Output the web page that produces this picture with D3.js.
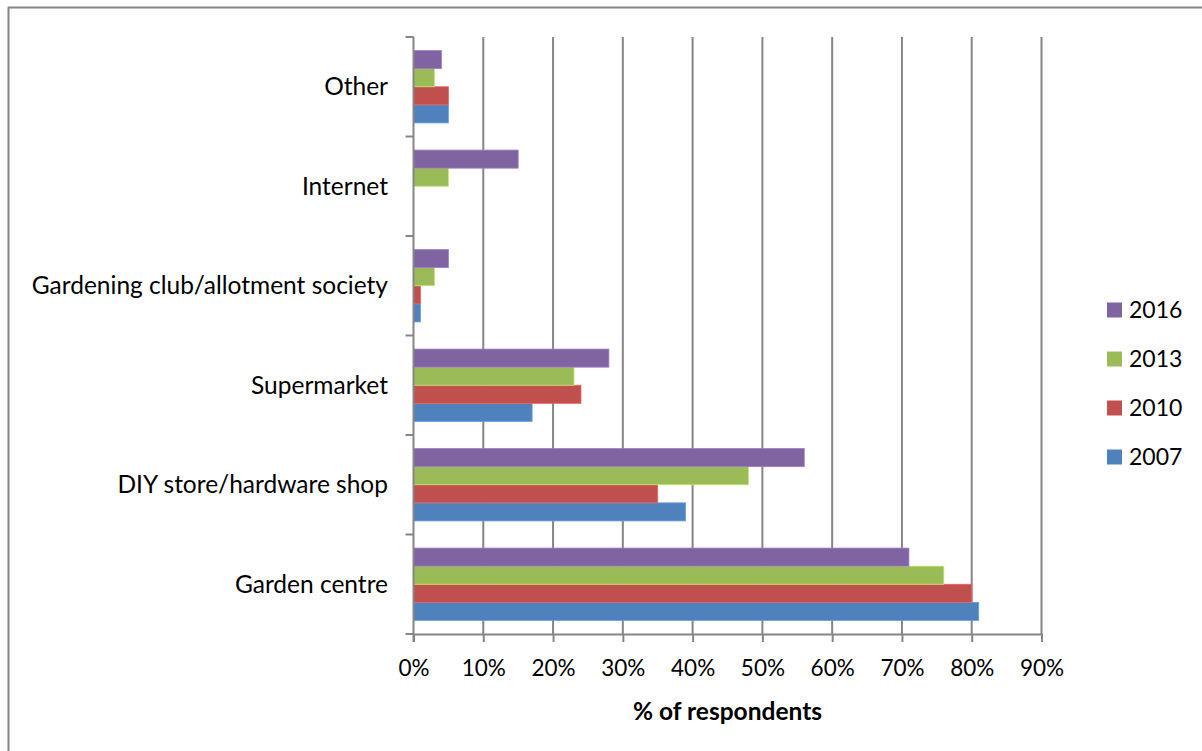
<!DOCTYPE html>
<html>
<head>
<meta charset="utf-8">
<script src="https://cdn.jsdelivr.net/npm/d3@7"></script>
<style>
  html, body { margin: 0; padding: 0; background: #fff; }
  svg { display: block; font-family: Lato, "Open Sans", sans-serif; }
</style>
</head>
<body>
<svg id="chart" width="1202" height="751"></svg>
<script>
// Where respondents buy gardening supplies, by survey year (% of respondents)
const categories = ["Garden centre", "DIY store/hardware shop", "Supermarket",
  "Gardening club/allotment society", "Internet", "Other"];
const years = ["2007", "2010", "2013", "2016"];
const values2007 = [81, 39, 17, 1, null, 5];
const values2010 = [80, 35, 24, 1, null, 5];
const values2013 = [76, 48, 23, 3, 5, 3];
const values2016 = [71, 56, 28, 5, 15, 4];
const xTicks = [0, 10, 20, 30, 40, 50, 60, 70, 80, 90];
const colors = ["#4F81BD", "#C0504D", "#9BBB59", "#8064A2"];
const axisTitle = "% of respondents";

const seriesValues = [values2007, values2010, values2013, values2016];

const svg = d3.select("#chart");
const W = 1202, H = 751;
const plot = { left: 413.5, right: 1041.5, top: 37, bottom: 634 };
const grey = "#868686";

// outer chart frame
svg.append("rect").attr("x", 8.5).attr("y", 7.5)
  .attr("width", W + 20).attr("height", H + 20)
  .attr("fill", "#fff").attr("stroke", grey).attr("stroke-width", 2);

const x = d3.scaleLinear().domain([0, 90]).range([plot.left, plot.right]);

// categories run bottom-to-top
const y = d3.scaleBand().domain(categories)
  .range([plot.bottom, plot.top]).paddingInner(0).paddingOuter(0);

// 4 bars per group with 150% gap width
const barH = y.bandwidth() / 5.5;
const groupOffset = (y.bandwidth() - 4 * barH) / 2;

// vertical gridlines
svg.append("g").selectAll("line").data(xTicks.slice(1)).join("line")
  .attr("x1", d => x(d)).attr("x2", d => x(d))
  .attr("y1", plot.top).attr("y2", plot.bottom)
  .attr("stroke", grey).attr("stroke-width", 2);

// bars
const rows = [];
categories.forEach((c, ci) => {
  seriesValues.forEach((vals, si) => {
    if (vals[ci] != null) rows.push({ c, si, v: vals[ci] });
  });
});

svg.append("g").selectAll("rect").data(rows).join("rect")
  .attr("x", x(0))
  .attr("y", d => y(d.c) + groupOffset + (3 - d.si) * barH)
  .attr("width", d => x(d.v) - x(0))
  .attr("height", barH)
  .attr("fill", d => colors[d.si])
  .attr("stroke", d => d3.color(colors[d.si]).brighter(0.6))
  .attr("stroke-width", 0.8);

// x axis
const xAxis = d3.axisBottom(x).tickValues(xTicks)
  .tickFormat(d => d + "%").tickSize(8).tickPadding(18);
const gx = svg.append("g").attr("transform", `translate(0,${plot.bottom})`).call(xAxis);
gx.select(".domain").attr("stroke", grey).attr("stroke-width", 2);
gx.selectAll(".tick line").attr("stroke", grey).attr("stroke-width", 2);
gx.selectAll(".tick text").attr("fill", "#000")
  .style("font-size", "22.5px").style("font-family", "Lato, sans-serif");

// y axis: ticks sit on category boundaries
svg.append("line").attr("x1", plot.left).attr("x2", plot.left)
  .attr("y1", plot.top).attr("y2", plot.bottom + 8)
  .attr("stroke", grey).attr("stroke-width", 2);
const boundaries = d3.range(categories.length + 1)
  .map(i => plot.bottom - i * y.step());
svg.append("g").selectAll("line").data(boundaries).join("line")
  .attr("x1", plot.left - 8).attr("x2", plot.left)
  .attr("y1", d => d).attr("y2", d => d)
  .attr("stroke", grey).attr("stroke-width", 2);

// category labels
svg.append("g").selectAll("text").data(categories).join("text")
  .attr("x", 388)
  .attr("y", d => y(d) + y.bandwidth() / 2)
  .attr("text-anchor", "end").attr("dy", "0.35em")
  .style("font-size", "24.5px").attr("fill", "#000")
  .text(d => d);

// axis title
svg.append("text").attr("x", (plot.left + plot.right) / 2).attr("y", 711)
  .attr("text-anchor", "middle").attr("dy", "0.35em")
  .style("font-size", "24.5px").style("font-weight", "bold")
  .text(axisTitle);

// legend, newest year on top
const legendYears = years.map((yr, i) => ({ yr, i })).reverse();
const lg = svg.append("g").selectAll("g").data(legendYears).join("g")
  .attr("transform", (d, k) => `translate(1107,${310 + k * 49})`);
lg.append("rect").attr("x", 0).attr("y", -7.5).attr("width", 15).attr("height", 15)
  .attr("fill", d => colors[d.i]);
lg.append("text").attr("x", 22).attr("dy", "0.35em")
  .style("font-size", "23px").attr("fill", "#000")
  .text(d => d.yr);
</script>
</body>
</html>
